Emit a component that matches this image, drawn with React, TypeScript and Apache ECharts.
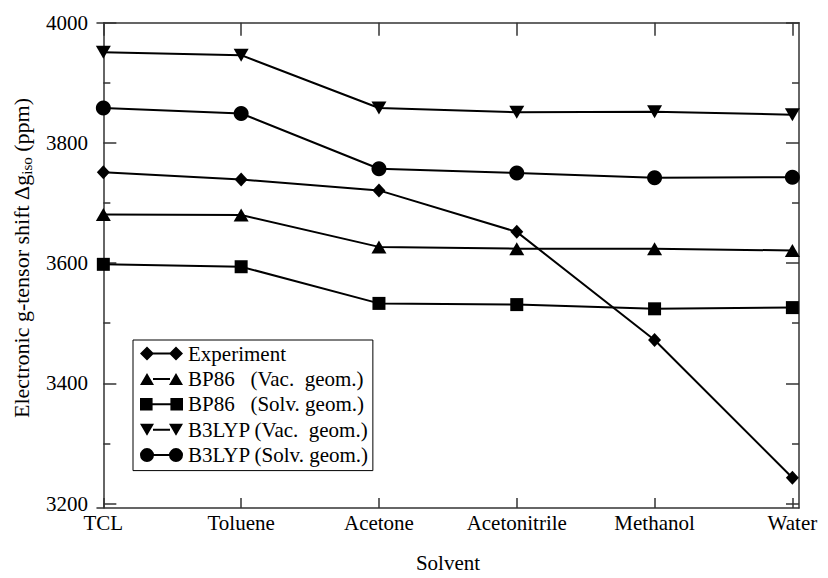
import React, { useEffect, useRef } from "react";
import * as echarts from "echarts";

const solvents = ["TCL", "Toluene", "Acetone", "Acetonitrile", "Methanol", "Water"];
const experiment = [3751, 3739, 3721, 3652, 3472, 3243];
const bp86Vac = [3681, 3680, 3627, 3624, 3624, 3621];
const bp86Solv = [3598, 3594, 3533, 3531, 3524, 3526];
const b3lypVac = [3951, 3946, 3858, 3851, 3852, 3847];
const b3lypSolv = [3858, 3849, 3757, 3750, 3742, 3743];

const majorTicks = [3200, 3400, 3600, 3800, 4000];
const minorTicks = [3300, 3500, 3700, 3900];

const seriesNames = [
  "Experiment",
  "BP86   (Vac.  geom.)",
  "BP86   (Solv. geom.)",
  "B3LYP (Vac.  geom.)",
  "B3LYP (Solv. geom.)",
];

const FONT = "'Liberation Serif', 'Times New Roman', serif";
const LINE = "M13 6L30 6L30 8L13 8Z";
const icons = [
  "path://M0 7L7 0L14 7L7 14Z" + LINE + "M29 7L36 0L43 7L36 14Z",
  "path://M0 13L7 1L14 13Z" + LINE + "M29 13L36 1L43 13Z",
  "path://M1 1L13 1L13 13L1 13Z" + LINE + "M30 1L42 1L42 13L30 13Z",
  "path://M0 1L14 1L7 13Z" + LINE + "M29 1L43 1L36 13Z",
  "path://M0 7A7 7 0 1 1 14 7A7 7 0 1 1 0 7Z" + LINE + "M29 7A7 7 0 1 1 43 7A7 7 0 1 1 29 7Z",
];

export default function App() {
  const ref = useRef<HTMLDivElement>(null);
  useEffect(() => {
    if (!ref.current) return;
    const chart = echarts.init(ref.current, null, { renderer: "svg" });
    const axisColor = "#333";
    const yMin = 3192.6;
    const yMax = 4000;
    const xMin = -0.046;
    const xMax = 5.048;
    const mk = (
      name: string,
      data: number[],
      symbol: string,
      size: number | number[],
      rotate = 0
    ) => ({
      name,
      type: "line",
      data: data.map((v, i) => [i, v]),
      symbol,
      symbolSize: size,
      symbolRotate: rotate,
      itemStyle: { color: "#000" },
      lineStyle: { color: "#000", width: 2 },
      xAxisIndex: 0,
      yAxisIndex: 0,
    });
    const minorAxis = (position: string) => ({
      type: "value",
      position,
      min: yMin,
      max: yMax,
      splitLine: { show: false },
      axisLine: { show: false },
      axisTick: {
        show: true,
        inside: true,
        length: 7,
        customValues: minorTicks,
        lineStyle: { color: axisColor, width: 1.5 },
      },
      axisLabel: { show: false },
    });
    chart.setOption({
      animation: false,
      backgroundColor: "#fff",
      grid: { left: 97, right: 29, top: 22.7, bottom: 64.7, containLabel: false },
      legend: {
        orient: "vertical",
        left: 133,
        top: 340,
        padding: [3, 4, 5, 7],
        borderColor: "#000",
        borderWidth: 1,
        itemGap: 4.4,
        itemWidth: 43,
        itemHeight: 14,
        selectedMode: false,
        textStyle: { fontFamily: FONT, fontSize: 21, color: "#000" },
        data: seriesNames.map((n, i) => ({ name: n, icon: icons[i] })),
      },
      graphic: [
        {
          type: "text",
          x: 22,
          y: 258,
          rotation: Math.PI / 2,
          style: {
            text: "{a|Electronic g-tensor shift Δg}{s|iso}{a| (ppm)}",
            align: "center",
            verticalAlign: "middle",
            fill: "#000",
            rich: {
              a: { fontFamily: FONT, fontSize: 22, lineHeight: 24, verticalAlign: "top", fill: "#000" },
              s: {
                fontFamily: FONT,
                fontSize: 15,
                lineHeight: 15,
                verticalAlign: "bottom",
                padding: [12, 0, 0, 0],
                fill: "#000",
              },
            },
          },
        },
      ],
      xAxis: [
        {
          type: "value",
          position: "bottom",
          min: xMin,
          max: xMax,
          splitLine: { show: false },
          axisLine: { show: true, lineStyle: { color: axisColor, width: 1.5 } },
          axisTick: {
            show: true,
            inside: true,
            length: 10,
            customValues: [0, 1, 2, 3, 4, 5],
            lineStyle: { color: axisColor, width: 1.5 },
          },
          axisLabel: {
            show: true,
            customValues: [0, 1, 2, 3, 4, 5],
            formatter: (v: number) => solvents[Math.round(v)] ?? "",
            fontFamily: FONT,
            fontSize: 21,
            color: "#000",
            margin: 4,
          },
          name: "Solvent",
          nameLocation: "middle",
          nameGap: 44,
          nameTextStyle: { fontFamily: FONT, fontSize: 21, color: "#000" },
        },
        {
          type: "value",
          position: "top",
          min: xMin,
          max: xMax,
          splitLine: { show: false },
          axisLine: { show: true, lineStyle: { color: axisColor, width: 1.5 } },
          axisTick: {
            show: true,
            inside: true,
            length: 13,
            customValues: [0, 1, 2, 3, 4, 5],
            lineStyle: { color: axisColor, width: 1.5 },
          },
          axisLabel: { show: false },
        },
      ],
      yAxis: [
        {
          type: "value",
          position: "left",
          min: yMin,
          max: yMax,
          splitLine: { show: false },
          axisLine: { show: true, lineStyle: { color: axisColor, width: 1.5 } },
          axisTick: {
            show: true,
            inside: true,
            length: 13,
            customValues: majorTicks,
            lineStyle: { color: axisColor, width: 1.5 },
          },
          axisLabel: {
            show: true,
            customValues: majorTicks,
            formatter: (v: number) => String(Math.round(v)),
            fontFamily: FONT,
            fontSize: 21,
            color: "#000",
            margin: 9,
          },
        },
        minorAxis("left"),
        {
          type: "value",
          position: "right",
          min: yMin,
          max: yMax,
          splitLine: { show: false },
          axisLine: { show: true, lineStyle: { color: axisColor, width: 1.5 } },
          axisTick: {
            show: true,
            inside: true,
            length: 13,
            customValues: majorTicks,
            lineStyle: { color: axisColor, width: 1.5 },
          },
          axisLabel: { show: false },
        },
        minorAxis("right"),
      ],
      series: [
        mk(seriesNames[0], experiment, "diamond", [13, 14]),
        mk(seriesNames[1], bp86Vac, "triangle", [15, 13]),
        mk(seriesNames[2], bp86Solv, "rect", [13, 13]),
        mk(seriesNames[3], b3lypVac, "triangle", [15, 13], 180),
        mk(seriesNames[4], b3lypSolv, "circle", 15),
      ],
    });
    return () => chart.dispose();
  }, []);
  return <div ref={ref} style={{ width: 828, height: 578, position: "absolute", left: 0, top: 0 }} />;
}
